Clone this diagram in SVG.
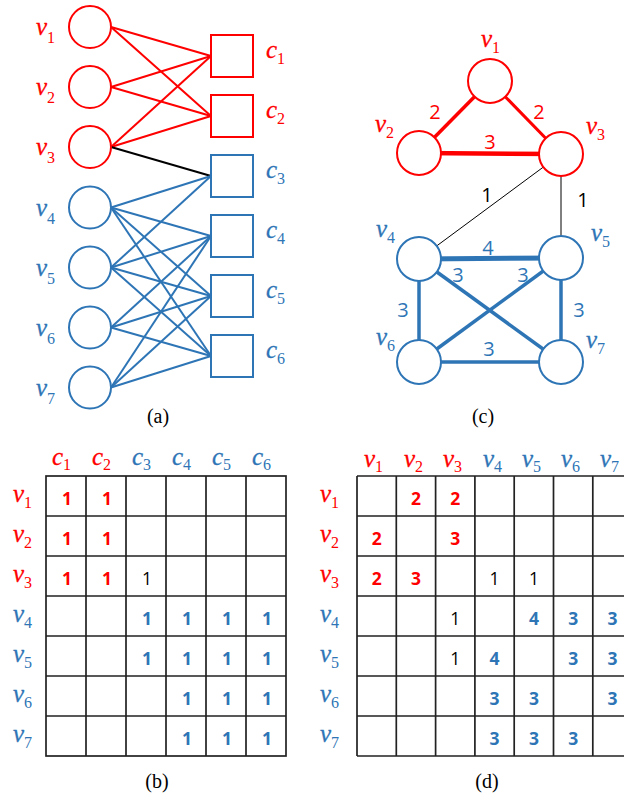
<svg xmlns="http://www.w3.org/2000/svg" width="624" height="799" viewBox="0 0 624 799">
<style>
.r{stroke:#FF0000;fill:none}
.b{stroke:#2E75B6;fill:none}
.k{stroke:#000;fill:none}
.node{fill:#fff;stroke-width:2}
.lab{font-family:"Liberation Serif",serif;font-style:italic;font-size:25px;stroke-width:0.3px}
.sub{font-style:normal;font-size:16px;stroke-width:0}
.rt{fill:#FF0000}
.bt{fill:#2E75B6}
.kt{fill:#000}
.lab.rt{stroke:#FF0000}
.lab.bt{stroke:#2E75B6}
.w{font-family:"Open Sans","Liberation Sans",sans-serif;font-size:20px;text-anchor:middle}
.num{font-family:"Open Sans","Liberation Sans",sans-serif;font-size:17.5px;text-anchor:middle;font-weight:bold}
.numk{font-family:"Open Sans","Liberation Sans",sans-serif;font-size:17.5px;text-anchor:middle}
.cap{font-family:"Liberation Serif",serif;font-size:20px;text-anchor:middle;fill:#000}
.grid{stroke:#222;stroke-width:1.7;fill:none}
</style>

<!-- Panel (a) connectors -->
<g id="connectors-a" stroke-width="2">
<line class="r" x1="111" y1="27" x2="211" y2="56"/>
<line class="r" x1="111" y1="27" x2="211" y2="116"/>
<line class="r" x1="111" y1="87" x2="211" y2="56"/>
<line class="r" x1="111" y1="87" x2="211" y2="116"/>
<line class="r" x1="111" y1="147" x2="211" y2="56"/>
<line class="r" x1="111" y1="147" x2="211" y2="116"/>
<line class="k" x1="111" y1="147" x2="211" y2="176"/>
<line class="b" x1="111" y1="207.5" x2="211" y2="176"/>
<line class="b" x1="111" y1="207.5" x2="211" y2="236"/>
<line class="b" x1="111" y1="207.5" x2="211" y2="296"/>
<line class="b" x1="111" y1="207.5" x2="211" y2="356"/>
<line class="b" x1="111" y1="267.5" x2="211" y2="176"/>
<line class="b" x1="111" y1="267.5" x2="211" y2="236"/>
<line class="b" x1="111" y1="267.5" x2="211" y2="296"/>
<line class="b" x1="111" y1="267.5" x2="211" y2="356"/>
<line class="b" x1="111" y1="327.5" x2="211" y2="236"/>
<line class="b" x1="111" y1="327.5" x2="211" y2="296"/>
<line class="b" x1="111" y1="327.5" x2="211" y2="356"/>
<line class="b" x1="111" y1="387.5" x2="211" y2="236"/>
<line class="b" x1="111" y1="387.5" x2="211" y2="296"/>
<line class="b" x1="111" y1="387.5" x2="211" y2="356"/>
</g>

<!-- Panel (a) nodes -->
<g id="a-v1"><circle class="r node" cx="90" cy="27" r="21"/><text class="lab rt" x="36" y="35">v<tspan class="sub" dy="8">1</tspan></text></g>
<g id="a-v2"><circle class="r node" cx="90" cy="87" r="21"/><text class="lab rt" x="36" y="95">v<tspan class="sub" dy="8">2</tspan></text></g>
<g id="a-v3"><circle class="r node" cx="90" cy="147" r="21"/><text class="lab rt" x="36" y="155">v<tspan class="sub" dy="8">3</tspan></text></g>
<g id="a-v4"><circle class="b node" cx="90" cy="207.5" r="21"/><text class="lab bt" x="36" y="215.5">v<tspan class="sub" dy="8">4</tspan></text></g>
<g id="a-v5"><circle class="b node" cx="90" cy="267.5" r="21"/><text class="lab bt" x="36" y="275.5">v<tspan class="sub" dy="8">5</tspan></text></g>
<g id="a-v6"><circle class="b node" cx="90" cy="327.5" r="21"/><text class="lab bt" x="36" y="335.5">v<tspan class="sub" dy="8">6</tspan></text></g>
<g id="a-v7"><circle class="b node" cx="90" cy="387.5" r="21"/><text class="lab bt" x="36" y="395.5">v<tspan class="sub" dy="8">7</tspan></text></g>

<g id="a-c1"><rect class="r node" x="211" y="35" width="42" height="42"/><text class="lab rt" x="266" y="58">c<tspan class="sub" dy="6">1</tspan></text></g>
<g id="a-c2"><rect class="r node" x="211" y="95" width="42" height="42"/><text class="lab rt" x="266" y="118">c<tspan class="sub" dy="6">2</tspan></text></g>
<g id="a-c3"><rect class="b node" x="211" y="155" width="42" height="42"/><text class="lab bt" x="266" y="178">c<tspan class="sub" dy="6">3</tspan></text></g>
<g id="a-c4"><rect class="b node" x="211" y="215" width="42" height="42"/><text class="lab bt" x="266" y="238">c<tspan class="sub" dy="6">4</tspan></text></g>
<g id="a-c5"><rect class="b node" x="211" y="275" width="42" height="42"/><text class="lab bt" x="266" y="298">c<tspan class="sub" dy="6">5</tspan></text></g>
<g id="a-c6"><rect class="b node" x="211" y="335" width="42" height="42"/><text class="lab bt" x="266" y="358">c<tspan class="sub" dy="6">6</tspan></text></g>
<text class="cap" x="158" y="423">(a)</text>

<!-- Panel (c) connectors -->
<g id="connectors-c">
<line class="r" x1="490" y1="81" x2="419" y2="153" stroke-width="3.5"/>
<line class="r" x1="490" y1="81" x2="561" y2="154" stroke-width="3"/>
<line class="r" x1="419" y1="153" x2="561" y2="154" stroke-width="4.5"/>
<line class="k" x1="561" y1="154" x2="419" y2="259" stroke-width="1"/>
<line class="k" x1="561" y1="154" x2="561" y2="258" stroke-width="1"/>
<line class="b" x1="419" y1="259" x2="561" y2="258" stroke-width="5"/>
<line class="b" x1="419" y1="259" x2="561" y2="362" stroke-width="3.5"/>
<line class="b" x1="561" y1="258" x2="419" y2="362" stroke-width="3.5"/>
<line class="b" x1="419" y1="259" x2="419" y2="362" stroke-width="3.5"/>
<line class="b" x1="561" y1="258" x2="561" y2="362" stroke-width="3.5"/>
<line class="b" x1="419" y1="362" x2="561" y2="362" stroke-width="3.5"/>
<text class="w rt" x="435" y="119">2</text>
<text class="w rt" x="539" y="119">2</text>
<text class="w rt" x="490" y="149">3</text>
<text class="w kt" x="487" y="202">1</text>
<text class="w kt" x="583" y="207">1</text>
<text class="w bt" x="488" y="255">4</text>
<text class="w bt" x="458" y="282">3</text>
<text class="w bt" x="523" y="282">3</text>
<text class="w bt" x="403" y="317">3</text>
<text class="w bt" x="579" y="317">3</text>
<text class="w bt" x="489" y="356">3</text>
</g>

<!-- Panel (c) nodes -->
<g id="c-v1"><circle class="r node" cx="490" cy="81" r="22"/><text class="lab rt" x="481" y="47">v<tspan class="sub" dy="6">1</tspan></text></g>
<g id="c-v2"><circle class="r node" cx="419" cy="153" r="22"/><text class="lab rt" x="375" y="132">v<tspan class="sub" dy="6">2</tspan></text></g>
<g id="c-v3"><circle class="r node" cx="561" cy="154" r="22"/><text class="lab rt" x="586" y="134">v<tspan class="sub" dy="6">3</tspan></text></g>
<g id="c-v4"><circle class="b node" cx="419" cy="259" r="22"/><text class="lab bt" x="376" y="237">v<tspan class="sub" dy="6">4</tspan></text></g>
<g id="c-v5"><circle class="b node" cx="561" cy="258" r="22"/><text class="lab bt" x="591" y="241">v<tspan class="sub" dy="6">5</tspan></text></g>
<g id="c-v6"><circle class="b node" cx="419" cy="362" r="22"/><text class="lab bt" x="376" y="345">v<tspan class="sub" dy="6">6</tspan></text></g>
<g id="c-v7"><circle class="b node" cx="561" cy="362" r="22"/><text class="lab bt" x="586" y="348">v<tspan class="sub" dy="6">7</tspan></text></g>
<text class="cap" x="483" y="423">(c)</text>

<!-- Panel (b) table -->
<g id="table-b">
<rect class="grid" x="46" y="476" width="240" height="280"/>
<path class="grid" d="M86 476V756M126 476V756M166 476V756M206 476V756M246 476V756M46 516H286M46 556H286M46 596H286M46 636H286M46 676H286M46 716H286"/>
<text class="lab rt" x="52" y="465">c<tspan class="sub" dy="5">1</tspan></text>
<text class="lab rt" x="92" y="465">c<tspan class="sub" dy="5">2</tspan></text>
<text class="lab bt" x="132" y="465">c<tspan class="sub" dy="5">3</tspan></text>
<text class="lab bt" x="172" y="465">c<tspan class="sub" dy="5">4</tspan></text>
<text class="lab bt" x="212" y="465">c<tspan class="sub" dy="5">5</tspan></text>
<text class="lab bt" x="252" y="465">c<tspan class="sub" dy="5">6</tspan></text>
<text class="lab rt" x="13" y="502">v<tspan class="sub" dy="6">1</tspan></text>
<text class="lab rt" x="13" y="542">v<tspan class="sub" dy="6">2</tspan></text>
<text class="lab rt" x="13" y="582">v<tspan class="sub" dy="6">3</tspan></text>
<text class="lab bt" x="13" y="622">v<tspan class="sub" dy="6">4</tspan></text>
<text class="lab bt" x="13" y="662">v<tspan class="sub" dy="6">5</tspan></text>
<text class="lab bt" x="13" y="702">v<tspan class="sub" dy="6">6</tspan></text>
<text class="lab bt" x="13" y="742">v<tspan class="sub" dy="6">7</tspan></text>
<g class="num rt">
<text x="67" y="505">1</text><text x="107" y="505">1</text>
<text x="67" y="545">1</text><text x="107" y="545">1</text>
<text x="67" y="585">1</text><text x="107" y="585">1</text>
</g>
<text class="numk kt" x="147" y="585">1</text>
<g class="num bt">
<text x="147" y="625">1</text><text x="187" y="625">1</text><text x="227" y="625">1</text><text x="267" y="625">1</text>
<text x="147" y="665">1</text><text x="187" y="665">1</text><text x="227" y="665">1</text><text x="267" y="665">1</text>
<text x="187" y="705">1</text><text x="227" y="705">1</text><text x="267" y="705">1</text>
<text x="187" y="745">1</text><text x="227" y="745">1</text><text x="267" y="745">1</text>
</g>
</g>
<text class="cap" x="157" y="788">(b)</text>

<!-- Panel (d) table -->
<g id="table-d">
<path class="grid" d="M357 476H632M357 756H632M357 476V756M396.3 476V756M435.6 476V756M474.9 476V756M514.2 476V756M553.5 476V756M592.8 476V756M357 516H632M357 556H632M357 596H632M357 636H632M357 676H632M357 716H632"/>
<text class="lab rt" x="364" y="467">v<tspan class="sub" dy="5">1</tspan></text>
<text class="lab rt" x="404" y="467">v<tspan class="sub" dy="5">2</tspan></text>
<text class="lab rt" x="443" y="467">v<tspan class="sub" dy="5">3</tspan></text>
<text class="lab bt" x="483" y="467">v<tspan class="sub" dy="5">4</tspan></text>
<text class="lab bt" x="522" y="467">v<tspan class="sub" dy="5">5</tspan></text>
<text class="lab bt" x="561" y="467">v<tspan class="sub" dy="5">6</tspan></text>
<text class="lab bt" x="600" y="467">v<tspan class="sub" dy="5">7</tspan></text>
<text class="lab rt" x="320" y="502">v<tspan class="sub" dy="6">1</tspan></text>
<text class="lab rt" x="320" y="542">v<tspan class="sub" dy="6">2</tspan></text>
<text class="lab rt" x="320" y="582">v<tspan class="sub" dy="6">3</tspan></text>
<text class="lab bt" x="320" y="622">v<tspan class="sub" dy="6">4</tspan></text>
<text class="lab bt" x="320" y="662">v<tspan class="sub" dy="6">5</tspan></text>
<text class="lab bt" x="320" y="702">v<tspan class="sub" dy="6">6</tspan></text>
<text class="lab bt" x="320" y="742">v<tspan class="sub" dy="6">7</tspan></text>
<g class="num rt">
<text x="416" y="505">2</text><text x="455.3" y="505">2</text>
<text x="376.7" y="545">2</text><text x="455.3" y="545">3</text>
<text x="376.7" y="585">2</text><text x="416" y="585">3</text>
</g>
<g class="numk kt">
<text x="494.6" y="585">1</text><text x="533.9" y="585">1</text>
<text x="455.3" y="625">1</text>
<text x="455.3" y="665">1</text>
</g>
<g class="num bt">
<text x="533.9" y="625">4</text><text x="573.2" y="625">3</text><text x="612.5" y="625">3</text>
<text x="494.6" y="665">4</text><text x="573.2" y="665">3</text><text x="612.5" y="665">3</text>
<text x="494.6" y="705">3</text><text x="533.9" y="705">3</text><text x="612.5" y="705">3</text>
<text x="494.6" y="745">3</text><text x="533.9" y="745">3</text><text x="573.2" y="745">3</text>
</g>
</g>
<text class="cap" x="487" y="788">(d)</text>
</svg>
